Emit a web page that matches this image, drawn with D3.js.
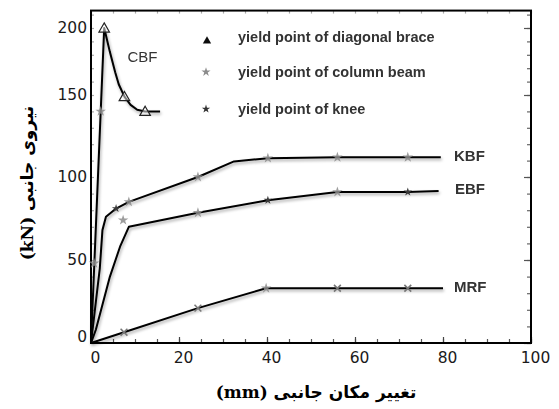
<!DOCTYPE html>
<html>
<head>
<meta charset="utf-8">
<script src="https://cdn.jsdelivr.net/npm/d3@7"></script>
<style>
html,body{margin:0;padding:0;background:#fff;}
svg{display:block;}
</style>
</head>
<body>
<svg id="chart" width="559" height="409"></svg>
<script>
// ---------- data ----------
const xTickValues = [0, 20, 40, 60, 80, 100];
const yTickValues = [0, 50, 100, 150, 200];
const xTitle = "تغییر مکان جانبی (mm)";
const yTitle = "نیروی جانبی (kN)";

const cbfData = [[0,0],[3,200],[4.3,182],[5.5,167],[6.3,158],[7.6,149],[9,144],[10.5,141],[12.3,140],[15.7,140]];
const kbfData = [[0,0],[2,45],[2.6,68],[3.4,76],[5.7,81],[8.6,85],[24.3,100],[32.5,109.5],[40.2,111.5],[56,112],[72,112],[79.5,112]];
const ebfData = [[0,0],[1.1,8],[4.3,40],[6.6,58],[8.6,70],[24.3,78.5],[40.2,86],[56,91],[72,91],[79,91.5]];
const mrfData = [[0,0],[7.5,6.5],[24.3,21],[39.8,33],[56,33],[72,33],[80,33]];

const seriesNames = ["CBF", "KBF", "EBF", "MRF"];
const seriesLabelPos = [[8.3,175], [82.5,110], [82.7,89.5], [82.5,30.5]];

const braceMarks = [[3,200],[7.6,149],[12.3,140]];
const columnBeamMarks = [[0.7,48],[2.2,140],[8.6,85],[7.3,74],[24.3,100],[40.2,111.5],[56,112],[72,112],[24.3,78.5],[56,91],[39.8,33]];
const kneeMarks = [[5.7,81],[40.2,86],[72,91]];
const crossMarks = [[7.5,6.5],[24.3,21],[56,33],[72,33]];

const legendItems = ["yield point of diagonal brace", "yield point of column beam", "yield point of knee"];

// ---------- scales ----------
const svg = d3.select("#chart");
const x = d3.scaleLinear().domain([0, 100]).range([91, 531]);
const y = d3.scaleLinear().domain([0, 50, 100, 150, 200]).range([343, 260, 177, 95, 28]);
const yTop = 213;

const defs = svg.append("defs");
const f = defs.append("filter").attr("id","shadow").attr("x","-10%").attr("y","-10%").attr("width","130%").attr("height","130%");
f.append("feDropShadow").attr("dx",1).attr("dy",2).attr("stdDeviation",1.6).attr("flood-color","#000").attr("flood-opacity",0.35);
defs.append("filter").attr("id","soft").attr("x","-50%").attr("y","-50%").attr("width","200%").attr("height","200%")
  .append("feGaussianBlur").attr("stdDeviation",0.6);

// ---------- ticks ----------
function tickAxis(axis, tr, color) {
  const g = svg.append("g").attr("transform", tr).call(axis);
  g.select(".domain").remove();
  g.selectAll("line").attr("stroke", color).attr("stroke-width", 1.2);
  g.selectAll("text").remove();
  return g;
}
const x0 = x(0), x1 = x(100), yb = y(0), yt = y(yTop);
tickAxis(d3.axisBottom(x).tickValues(d3.range(0,101,5)).tickSize(-4), `translate(0,${yb})`, "#555");
tickAxis(d3.axisBottom(x).tickValues(xTickValues).tickSize(-6), `translate(0,${yb})`, "#444");
tickAxis(d3.axisTop(x).tickValues(d3.range(0,101,5)).tickSize(-3), `translate(0,${yt})`, "#aaa");
tickAxis(d3.axisRight(y).tickValues(d3.range(0,211,10)).tickSize(-4), `translate(${x1},0)`, "#666");
tickAxis(d3.axisRight(y).tickValues(yTickValues).tickSize(-7), `translate(${x1},0)`, "#555");
tickAxis(d3.axisLeft(y).tickValues(d3.range(0,211,10)).tickSize(-3), `translate(${x0},0)`, "#aaa");

// tick labels
const xl = svg.append("g").attr("transform", `translate(0,${yb})`)
  .call(d3.axisBottom(x).tickValues(xTickValues).tickSize(0).tickPadding(9));
xl.select(".domain").remove();
xl.selectAll("text").attr("dx", 4).attr("font-family", "DejaVu Sans").attr("font-size", 15.5).attr("fill", "#1a1a1a");

const yl = svg.append("g").attr("transform", `translate(${x0},0)`)
  .call(d3.axisLeft(y).tickValues(yTickValues).tickSize(0).tickPadding(4));
yl.select(".domain").remove();
yl.selectAll("text").attr("font-family", "DejaVu Sans").attr("font-size", 15.5).attr("fill", "#1a1a1a")
  .attr("dy", d => d === 0 ? "-0.12em" : "0.32em");

// frame
svg.append("rect").attr("x", x0).attr("y", yt).attr("width", x1 - x0).attr("height", yb - yt)
  .attr("fill", "none").attr("stroke", "#000").attr("stroke-width", 2);

// ---------- lines ----------
const line = d3.line().x(d => x(d[0])).y(d => y(d[1]));
const lg = svg.append("g").attr("filter", "url(#shadow)");
[cbfData, kbfData, ebfData, mrfData].forEach(data => {
  lg.append("path").datum(data).attr("d", line).attr("fill", "none")
    .attr("stroke", "#000").attr("stroke-width", 2).attr("stroke-linejoin", "round");
});

// ---------- markers ----------
const star = d3.symbol().type(d3.symbolStar).size(34);
const smallStar = d3.symbol().type(d3.symbolStar).size(22);
const tri = d3.symbol().type(d3.symbolTriangle).size(48);
const times = d3.symbol().type(d3.symbolTimes || d3.symbolX || d3.symbolCross).size(32);

const mg = svg.append("g").attr("filter", "url(#soft)");
mg.append("g").selectAll("path").data(columnBeamMarks).join("path")
  .attr("d", star).attr("transform", d => `translate(${x(d[0])},${y(d[1])})`)
  .attr("fill", "#8c8c8c").attr("fill-opacity", 0.85);
mg.append("g").selectAll("path").data(kneeMarks).join("path")
  .attr("d", smallStar).attr("transform", d => `translate(${x(d[0])},${y(d[1])})`)
  .attr("fill", "#3a3a3a");
mg.append("g").selectAll("path").data(crossMarks).join("path")
  .attr("d", times).attr("transform", d => `translate(${x(d[0])},${y(d[1])})`)
  .attr("fill", "none").attr("stroke", "#777").attr("stroke-width", 1.6);
svg.append("g").selectAll("path").data(braceMarks).join("path")
  .attr("d", tri).attr("transform", d => `translate(${x(d[0])},${y(d[1]) + 1})`)
  .attr("fill", "#fff").attr("fill-opacity", 0.5).attr("stroke", "#222").attr("stroke-width", 1.2);

// ---------- series labels ----------
svg.append("g").selectAll("text").data(seriesNames).join("text")
  .attr("x", (d, i) => x(seriesLabelPos[i][0]))
  .attr("y", (d, i) => y(seriesLabelPos[i][1]))
  .attr("font-family", "Liberation Sans, Arial, sans-serif")
  .attr("font-size", 15)
  .attr("font-weight", (d, i) => i === 0 ? "normal" : "bold")
  .attr("fill", "#333")
  .text(d => d);

// ---------- legend ----------
const legY = [42, 77, 114];
const legMarkY = [41, 72, 109];
const legend = svg.append("g");
legend.selectAll("text").data(legendItems).join("text")
  .attr("x", 238).attr("y", (d, i) => legY[i])
  .attr("font-family", "Liberation Sans, Arial, sans-serif")
  .attr("font-size", 14.5).attr("font-weight", "bold").attr("fill", "#333")
  .text(d => d);
const lm = legend.append("g").attr("filter", "url(#soft)");
lm.append("path").attr("d", d3.symbol().type(d3.symbolTriangle).size(30)())
  .attr("transform", `translate(207,${legMarkY[0]})`).attr("fill", "#111");
lm.append("path").attr("d", d3.symbol().type(d3.symbolStar).size(26)())
  .attr("transform", `translate(206,${legMarkY[1]})`).attr("fill", "#8c8c8c");
lm.append("path").attr("d", d3.symbol().type(d3.symbolStar).size(22)())
  .attr("transform", `translate(206,${legMarkY[2]})`).attr("fill", "#333");

// ---------- axis titles ----------
svg.append("text").attr("x", 316).attr("y", 398).attr("text-anchor", "middle")
  .attr("direction", "rtl")
  .attr("font-family", "DejaVu Serif, DejaVu Sans, serif").attr("font-weight", "bold").attr("font-size", 17)
  .attr("fill", "#000").text(xTitle);
svg.append("text").attr("transform", "translate(33,183) rotate(-90)").attr("text-anchor", "middle")
  .attr("direction", "rtl")
  .attr("font-family", "DejaVu Serif, DejaVu Sans, serif").attr("font-weight", "bold").attr("font-size", 17)
  .attr("fill", "#000").text(yTitle);
</script>
</body>
</html>
